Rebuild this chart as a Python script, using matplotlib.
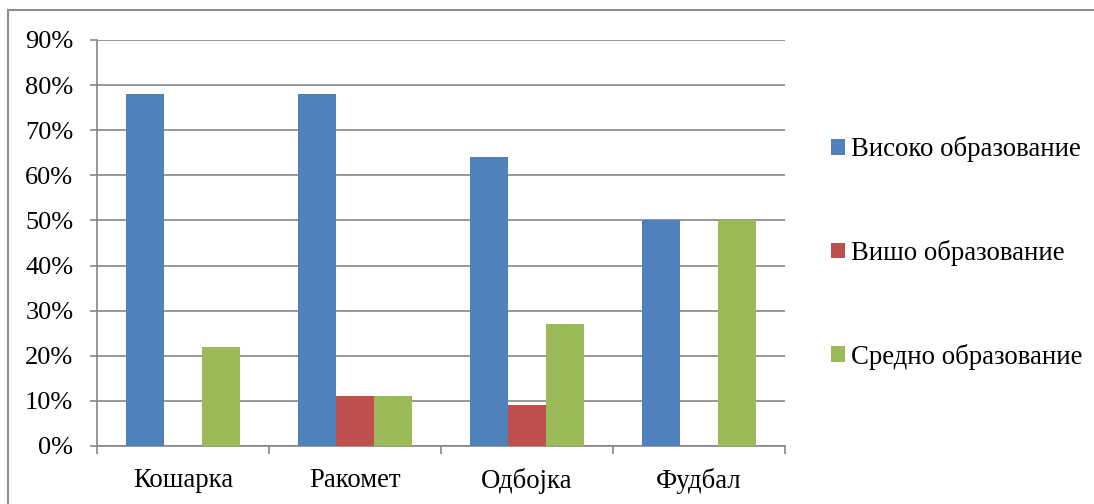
import matplotlib
matplotlib.use("Agg")
import matplotlib.pyplot as plt
from matplotlib.patches import Patch
from matplotlib.lines import Line2D
import numpy as np

# Data
categories = ["Кошарка", "Ракомет", "Одбојка", "Фудбал"]
series_names = ["Високо образование", "Вишо образование", "Средно образование"]
visoko = [78, 78, 64, 50]
visho = [0, 11, 9, 0]
sredno = [22, 11, 27, 50]
yticks = [0, 10, 20, 30, 40, 50, 60, 70, 80, 90]

colors = ["#4F81BD", "#C0504D", "#9BBB59"]
grid_color = "#868686"
font = "Liberation Serif"
fs = 19.3

plt.rcParams["font.family"] = [font, "DejaVu Serif"]

fig = plt.figure(figsize=(10.94, 5.04), dpi=100)
ax = fig.add_axes([97 / 1094, 1 - 446 / 504, (785 - 97) / 1094, (446 - 40) / 504])

x = np.arange(len(categories))
w = 38 / 172
for i, (vals, c) in enumerate(zip([visoko, visho, sredno], colors)):
    ax.bar(x + (i - 1) * w, vals, width=w, color=c, edgecolor="none", zorder=3)

ax.set_xlim(-0.5, len(categories) - 0.5)
ax.set_ylim(0, 90)
ax.set_yticks(yticks)
ax.set_yticklabels([f"{v}%" for v in yticks], fontsize=19)
ax.yaxis.grid(True, color=grid_color, linewidth=1.2, zorder=0)
ax.tick_params(axis="y", length=5, width=1.2, color=grid_color, pad=12)

ax.set_xticks(x)
ax.set_xticklabels(categories, fontsize=fs)
ax.set_xticks(np.arange(-0.5, len(categories)), minor=True)
ax.tick_params(axis="x", which="major", length=0, pad=16)
ax.tick_params(axis="x", which="minor", length=6, width=1.2, color=grid_color)

for s in ["top", "right"]:
    ax.spines[s].set_visible(False)
for s in ["left", "bottom"]:
    ax.spines[s].set_color(grid_color)
    ax.spines[s].set_linewidth(1.2)

handles = [Patch(facecolor=c, edgecolor="none") for c in colors]
fig.legend(handles, series_names, loc="center left",
           bbox_to_anchor=(831 / 1094, 1 - 253 / 504), frameon=False,
           fontsize=fs, borderpad=0, borderaxespad=0,
           handlelength=0.52, handleheight=0.52, handletextpad=0.22,
           labelspacing=2.9)

# Outer frame lines along the top and left edges
fig.add_artist(Line2D([8 / 1094, 1], [1 - 10 / 504, 1 - 10 / 504],
                      transform=fig.transFigure, color="#8c8c8c", linewidth=1.5))
fig.add_artist(Line2D([8 / 1094, 8 / 1094], [0, 1 - 10 / 504],
                      transform=fig.transFigure, color="#8c8c8c", linewidth=1.5))

fig.savefig("out.png", dpi=100)
